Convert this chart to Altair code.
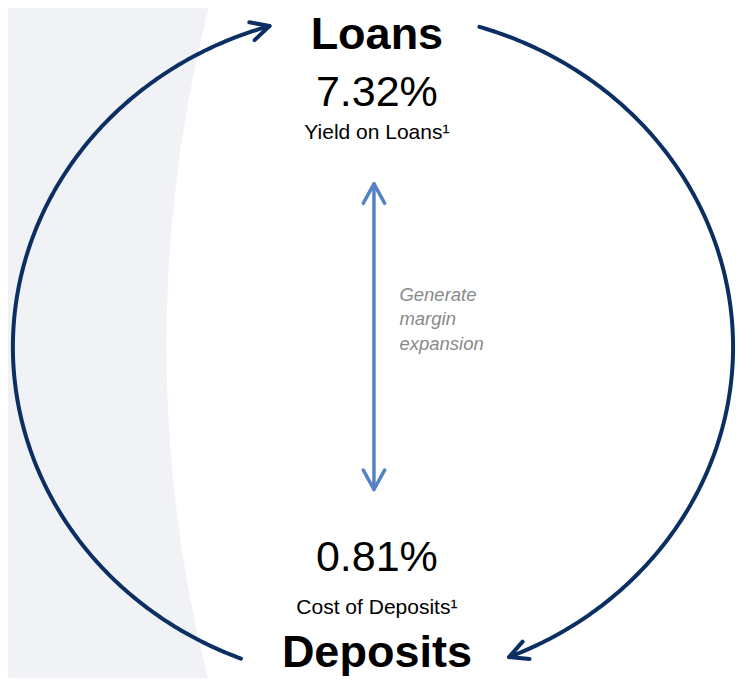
import numpy as np
import pandas as pd
import altair as alt

# ---- content ----
nodes = ["Loans", "Deposits"]
rates = ["7.32%", "0.81%"]
rate_labels = ["Yield on Loans\u00b9", "Cost of Deposits\u00b9"]
note_lines = ["Generate", "margin", "expansion"]

# ---- layout (reference pixel space 744 x 686, y downward) ----
REF_W, REF_H = 744, 686
W, H = 728, 670
CENTER_X = 377
node_y = [42, 675]
rate_y = [100, 576]
label_y = [134, 620]
note_x = 400
note_y = [300, 325, 350]

# cycle ellipse
CX, CY, RX, RY = 373, 347, 368, 343
left_arc_deg = [248.5, 106.7]
right_arc_deg = [72.8, -67.8]
HEAD_LEN, HEAD_ANG = 21, 27

# margin arrow
ARROW_X = 374
arrow_y = [180, 493]

# background boundary circle
BCX, BCY, BR = 1562, 345, 1400

NAVY = "#0B2F62"
BLUE = "#5682C3"
GRAY_BG = "#F1F2F6"

xs = alt.Scale(domain=[0, REF_W], nice=False, zero=False)
ys = alt.Scale(domain=[REF_H, 0], nice=False, zero=False)


def ellipse(t0, t1, n=240):
    t = np.radians(np.linspace(t0, t1, n))
    return CX + RX * np.cos(t), CY - RY * np.sin(t)


def head(xa, ya):
    tip = np.array([xa[-1], ya[-1]])
    prev = np.array([xa[-4], ya[-4]])
    back = prev - tip
    back = back / np.linalg.norm(back)
    pts = []
    for s in (1, -1):
        a = np.radians(HEAD_ANG * s)
        r = np.array([back[0] * np.cos(a) - back[1] * np.sin(a),
                      back[0] * np.sin(a) + back[1] * np.cos(a)])
        pts.append(tip + HEAD_LEN * r)
    return [pts[0], tip, pts[1]]


rows = []
for name, (t0, t1) in (("left", left_arc_deg), ("right", right_arc_deg)):
    ex, ey = ellipse(t0, t1)
    for i, (a, b) in enumerate(zip(ex, ey)):
        rows.append({"g": name + "_arc", "o": i, "x": a, "y": b})
    for i, p in enumerate(head(ex, ey)):
        rows.append({"g": name + "_head", "o": i, "x": p[0], "y": p[1]})
cycle_df = pd.DataFrame(rows)

arows = []
arows += [{"g": "shaft", "o": 0, "x": ARROW_X, "y": arrow_y[0]},
          {"g": "shaft", "o": 1, "x": ARROW_X, "y": arrow_y[1]}]
for k, (ty, d) in enumerate(((arrow_y[0], 1), (arrow_y[1], -1))):
    g = "h%d" % k
    arows += [{"g": g, "o": 0, "x": ARROW_X - 11, "y": ty + 20 * d},
              {"g": g, "o": 1, "x": ARROW_X, "y": ty},
              {"g": g, "o": 2, "x": ARROW_X + 11, "y": ty + 20 * d}]
arrow_df = pd.DataFrame(arows)

yy = np.linspace(-10, REF_H + 10, 200)
bg_df = pd.DataFrame({"y": yy, "x0": -10.0,
                      "xb": BCX - np.sqrt(BR ** 2 - (yy - BCY) ** 2)})

bg = alt.Chart(bg_df).mark_area(color=GRAY_BG, orient="horizontal").encode(
    y=alt.Y("y:Q", scale=ys, axis=None),
    x=alt.X("x0:Q", scale=xs, axis=None),
    x2="xb:Q",
)

cycle = alt.Chart(cycle_df).mark_line(color=NAVY, strokeWidth=4, strokeCap="round",
                                      strokeJoin="round").encode(
    x=alt.X("x:Q", scale=xs, axis=None),
    y=alt.Y("y:Q", scale=ys, axis=None),
    detail="g:N",
    order="o:Q",
)

arrow = alt.Chart(arrow_df).mark_line(color=BLUE, strokeWidth=3.5, strokeCap="round",
                                      strokeJoin="round").encode(
    x=alt.X("x:Q", scale=xs, axis=None),
    y=alt.Y("y:Q", scale=ys, axis=None),
    detail="g:N",
    order="o:Q",
)

FONT = "Liberation Sans"


def text_layer(labels, xs_, ys_, size, weight="normal", style="normal", color="#000000",
               align="center"):
    df = pd.DataFrame({"t": labels, "x": xs_, "y": ys_})
    return alt.Chart(df).mark_text(font=FONT, fontSize=size, fontWeight=weight,
                                   fontStyle=style, color=color, align=align,
                                   baseline="alphabetic").encode(
        x=alt.X("x:Q", scale=xs, axis=None),
        y=alt.Y("y:Q", scale=ys, axis=None),
        text="t:N",
    )


t_nodes = text_layer(nodes, [CENTER_X] * 2, node_y, 45, weight="bold")
t_rates = text_layer(rates, [CENTER_X] * 2, rate_y, 43)
t_labels = text_layer(rate_labels, [CENTER_X] * 2, label_y, 21)
t_note = text_layer(note_lines, [note_x] * 3, note_y, 18.5, style="italic",
                    color="#8A8A8A", align="left")

chart = alt.layer(bg, cycle, arrow, t_nodes, t_rates, t_labels, t_note).properties(
    width=W, height=H, padding=0, autosize="none", background="#FFFFFF"
).configure_view(stroke=None)

chart.save("out.html", embed_options={"renderer": "svg", "actions": False})
